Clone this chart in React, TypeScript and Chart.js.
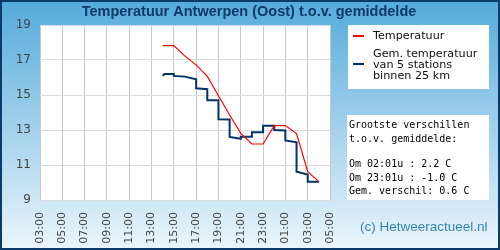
import React, { useEffect, useRef } from "react";
import { Chart, registerables } from "chart.js";
Chart.register(...registerables);

const titleText = "Temperatuur Antwerpen (Oost) t.o.v. gemiddelde";
const xTickLabels = ["03:00", "05:00", "07:00", "09:00", "11:00", "13:00", "15:00", "17:00", "19:00", "21:00", "23:00", "01:00", "03:00", "05:00"];
const axisStartHour = 3;
const yMin = 9;
const yMax = 19;
const yStep = 2;

const redName = "Temperatuur";
const redTimes = ["14:00", "15:00", "16:00", "17:00", "18:00", "19:00", "20:00", "21:00", "22:00", "23:00", "00:00", "01:00", "02:00", "03:00", "04:00"];
const redValues = [17.82, 17.82, 17.22, 16.72, 16.06, 14.96, 13.86, 12.81, 12.2, 12.2, 13.25, 13.25, 12.8, 10.62, 10.05];

const blueName = ["Gem. temperatuur", "van 5 stations", "binnen 25 km"];
const blueTimes = ["14:00", "14:10", "15:00", "15:00", "16:00", "17:00", "17:00", "18:00", "18:00", "19:00", "19:00", "20:00", "20:00", "21:00", "21:00", "22:00", "22:00", "23:00", "23:00", "00:00", "00:00", "01:00", "01:00", "02:00", "02:00", "03:00", "03:00", "04:00"];
const blueValues = [16.1, 16.2, 16.2, 16.09, 16.05, 15.9, 15.38, 15.33, 14.7, 14.7, 13.61, 13.6, 12.6, 12.5, 12.62, 12.62, 12.87, 12.87, 13.25, 13.25, 13.0, 12.97, 12.4, 12.3, 10.62, 10.45, 10.05, 10.05];

const statsLines = ["Grootste verschillen", "t.o.v. gemiddelde:", "", "Om 02:01u : 2.2 C", "Om 23:01u : -1.0 C", "Gem. verschil: 0.6 C"];
const copyrightText = "(c) Hetweeractueel.nl";

function toAxisHours(times: string[]): number[] {
  let day = 0;
  let prev = -1;
  return times.map((t) => {
    const [hh, mm] = t.split(":").map(Number);
    const h = hh + mm / 60;
    if (prev >= 0 && h < prev) day += 24;
    prev = h;
    return h - axisStartHour + day;
  });
}

function toPoints(times: string[], values: number[]) {
  const xs = toAxisHours(times);
  return xs.map((x, i) => ({ x, y: values[i] }));
}

const decorPlugin = {
  id: "decor",
  beforeDraw(chart: any) {
    const { ctx, width, height, chartArea } = chart;
    ctx.save();
    const g = ctx.createLinearGradient(0, 0, 0, height);
    g.addColorStop(0, "#55aadb");
    g.addColorStop(1, "#ecf6fc");
    ctx.fillStyle = g;
    ctx.fillRect(0, 0, width, height);
    ctx.strokeStyle = "#0b3b6b";
    ctx.lineWidth = 2;
    ctx.strokeRect(1, 1, width - 2, height - 2);
    ctx.fillStyle = "#ffffff";
    ctx.fillRect(chartArea.left, chartArea.top, chartArea.right - chartArea.left, chartArea.bottom - chartArea.top);
    ctx.fillStyle = "#0e3a66";
    ctx.font = "bold 14.5px 'Liberation Sans', Arial, sans-serif";
    ctx.textAlign = "center";
    ctx.textBaseline = "middle";
    ctx.fillText(titleText, 249, 12);
    ctx.restore();
  },
  afterDraw(chart: any) {
    const { ctx } = chart;
    ctx.save();
    // legend box
    ctx.fillStyle = "#ffffff";
    ctx.fillRect(348, 25, 141, 64);
    ctx.fillStyle = "#ff0000";
    ctx.fillRect(353, 35, 11, 2);
    ctx.fillStyle = "#003366";
    ctx.fillRect(353, 63, 11, 2);
    ctx.fillStyle = "#111111";
    ctx.font = "11.2px 'DejaVu Sans', sans-serif";
    ctx.textAlign = "left";
    ctx.textBaseline = "middle";
    ctx.fillText(redName, 373, 36);
    blueName.forEach((line, i) => ctx.fillText(line, 373, 54 + i * 10.8));
    // stats box
    ctx.fillStyle = "#ffffff";
    ctx.fillRect(347, 115, 142, 85);
    ctx.fillStyle = "#000000";
    ctx.font = "10px 'DejaVu Sans Mono', monospace";
    const ys = [125.7, 139.3, 151.6, 164, 178, 191.5];
    statsLines.forEach((line, i) => ctx.fillText(line, 349, ys[i]));
    // copyright
    ctx.fillStyle = "#3583b3";
    ctx.font = "13.5px 'Liberation Sans', Arial, sans-serif";
    ctx.fillText(copyrightText, 360, 227);
    ctx.restore();
  },
};

export default function App() {
  const ref = useRef<HTMLCanvasElement | null>(null);
  useEffect(() => {
    if (!ref.current) return;
    const chart = new Chart(ref.current, {
      type: "line",
      data: {
        datasets: [
          {
            label: redName,
            data: toPoints(redTimes, redValues),
            borderColor: "#ff0000",
            borderWidth: 1.2,
            pointRadius: 0,
            tension: 0,
            fill: false,
          },
          {
            label: blueName.join(" "),
            data: toPoints(blueTimes, blueValues),
            borderColor: "#003366",
            borderWidth: 2,
            pointRadius: 0,
            tension: 0,
            fill: false,
          },
        ],
      },
      options: {
        animation: false,
        responsive: false,
        maintainAspectRatio: false,
        layout: { padding: { top: 25, right: 170, left: 0, bottom: 0 } },
        plugins: { legend: { display: false }, tooltip: { enabled: false }, title: { display: false } },
        scales: {
          x: {
            type: "linear",
            min: 0,
            max: 26,
            afterFit: (s: any) => { s.height = 50; },
            grid: { color: "#c8c8c8", drawTicks: false },
            border: { display: false },
            ticks: {
              stepSize: 2,
              autoSkip: false,
              maxRotation: 90,
              minRotation: 90,
              padding: 12,
              color: "#444444",
              font: { family: "'DejaVu Sans', sans-serif", size: 11 },
              callback: (_v: any, i: number) => xTickLabels[i],
            },
          },
          y: {
            min: yMin,
            max: yMax,
            afterFit: (s: any) => { s.width = 40; },
            grid: { color: "#dcdcdc", drawTicks: false },
            border: { display: false },
            ticks: {
              stepSize: yStep,
              padding: 9,
              color: "#444444",
              font: { family: "'DejaVu Sans', sans-serif", size: 12 },
              callback: (v: any) => String(v),
            },
          },
        },
      },
      plugins: [decorPlugin],
    });
    return () => chart.destroy();
  }, []);
  return (
    <div style={{ position: "absolute", left: 0, top: 0, width: 500, height: 250 }}>
      <canvas ref={ref} width={500} height={250} style={{ display: "block" }} />
    </div>
  );
}
